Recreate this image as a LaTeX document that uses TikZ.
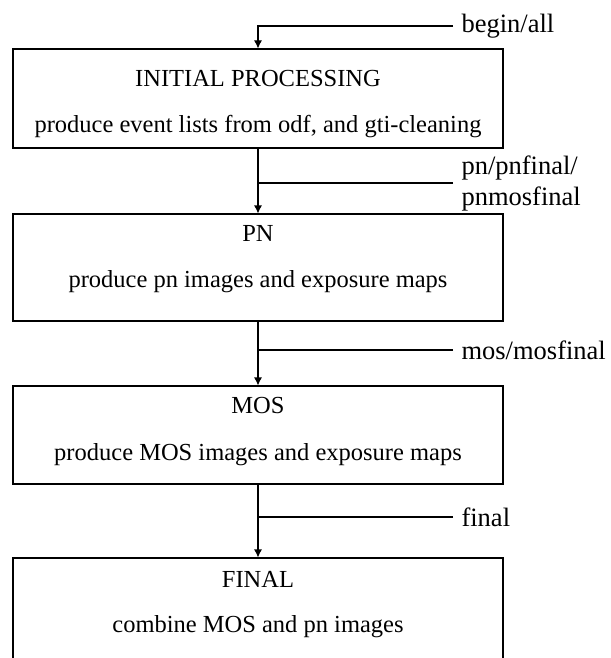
\documentclass[tikz,border=0pt]{standalone}
\usepackage{fontspec}
\setmainfont{Liberation Serif}
\usetikzlibrary{arrows.meta}

\begin{document}
\begin{tikzpicture}
  [x = 1pt, y = -1pt, line width = 1.1pt,
   stagebox/.style = {draw, minimum width = 490pt, inner sep = 0pt},
   boxtext/.style = {font = \fontsize{24.5}{29}\selectfont, anchor = base, inner sep = 0pt},
   flowlabel/.style = {font = \fontsize{26.5}{31}\selectfont, anchor = west, align = left,
                       inner xsep = 8pt, inner ysep = 0pt},
   flowarrow/.style = {-{Latex[length = 8pt, width = 8pt]}}]
  \clip (0,0) rectangle (610,658);
  % the four stages
  \node[stagebox, minimum height = 99pt] (init) at (258, 98.5) {};
  \node[stagebox, minimum height = 107pt] (pn) at (258, 267.5) {};
  \node[stagebox, minimum height = 98pt] (mos) at (258, 435) {};
  \node[stagebox, minimum height = 120pt] (final) at (258, 618) {};
  \node[boxtext] (inittitle) at (258, 87) {INITIAL PROCESSING};
  \node[boxtext] (initdesc) at (258, 132) {produce event lists from odf, and gti-cleaning};
  \node[boxtext] (pntitle) at (258, 241) {PN};
  \node[boxtext] (pndesc) at (258, 287) {produce pn images and exposure maps};
  \node[boxtext] (mostitle) at (258, 413) {MOS};
  \node[boxtext] (mosdesc) at (258, 460) {produce MOS images and exposure maps};
  \node[boxtext] (finaltitle) at (258, 587) {FINAL};
  \node[boxtext] (finaldesc) at (258, 632) {combine MOS and pn images};
  % entry points
  \node[flowlabel] (beginlbl) at (453, 26) {begin/all};
  \node[flowlabel] (pnlbl) at (453, 183) {pn/pnfinal/\\pnmosfinal};
  \node[flowlabel] (moslbl) at (453, 350) {mos/mosfinal};
  \node[flowlabel] (finallbl) at (453, 517) {final};
  \draw[flowarrow] (beginlbl.west) -| (init.north);
  \draw[flowarrow] (init.south) -- (pn.north);
  \draw[flowarrow] (pn.south) -- (mos.north);
  \draw[flowarrow] (mos.south) -- (final.north);
  \draw (pnlbl.west) -- (pnlbl.west -| init.south);
  \draw (moslbl.west) -- (moslbl.west -| pn.south);
  \draw (finallbl.west) -- (finallbl.west -| mos.south);
\end{tikzpicture}
\end{document}
